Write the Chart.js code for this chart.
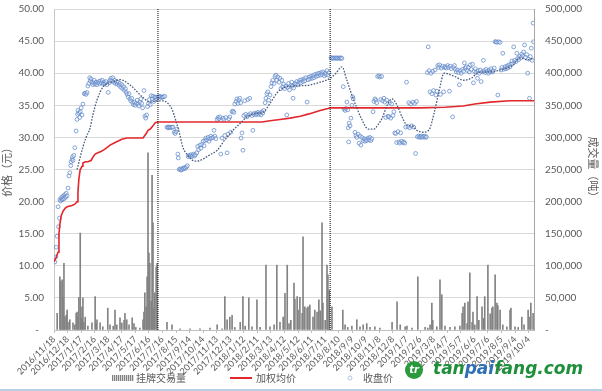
<!DOCTYPE html>
<html>
<head>
<meta charset="utf-8">
<script src="https://cdn.jsdelivr.net/npm/chart.js@4.4.0/dist/chart.umd.min.js"></script>
<style>
  html, body { margin: 0; padding: 0; background: #fff; }
  #wrap { width: 602px; height: 389px; border-bottom: 2px solid #b9cde5; }
</style>
</head>
<body>
<div id="wrap"><canvas id="chart" width="602" height="389"></canvas></div>
<script>
// ── DATA ─────────────────────────────────────────────────────────
// x values are days counted from the first trading day 2016/11/18
const START = new Date(2016, 10, 18);
const AXIS_DAYS = 1062;
const TICK_STEP = 30;
const priceTicks = { min: 0, max: 50, step: 5 };
const volumeTicks = { min: 0, max: 500000, step: 50000 };
const seriesNames = ['挂牌交易量', '加权均价', '收盘价'];
const axisTitles = ['价格（元）', '成交量（吨）'];
const markerDays = [230, 611];

// 收盘价 [day, price]
const closingPrice = [
  [2,10.6],[4,11.4],[5,12.9],[7,14.6],[10,16.1],[12,17.4],[9,19.2],[13,20.3],[15,20.1],[16,20.6],
  [18,20.3],[19,20.8],[20,20.4],[22,20.9],[23,20.5],[24,21.1],[26,20.7],[27,21.3],[29,20.9],[31,22.1],
  [33,24.0],[35,24.5],[37,25.6],[38,26.2],[40,26.6],[41,27.0],[42,26.4],[44,27.2],[46,28.4],[49,31.0],
  [51,32.8],[52,33.6],[53,34.2],[55,33.8],[57,33.1],[58,34.0],[60,34.6],[62,33.5],[64,35.2],[67,36.8],
  [69,36.9],[71,36.7],[73,37.0],[75,38.0],[77,38.4],[79,39.3],[80,38.8],[82,39.1],[84,38.6],[86,38.2],
  [88,38.5],[89,38.9],[91,38.3],[93,38.6],[95,38.2],[97,38.5],[99,38.7],[101,38.4],[103,38.8],
  [105,38.5],[107,38.9],[109,38.3],[111,38.6],[113,38.4],[115,38.7],[117,38.2],[120,37.0],[122,38.5],
  [124,38.9],[126,39.2],[128,38.8],[130,39.3],[132,38.6],[134,38.9],[136,38.4],[138,38.7],[140,38.3],
  [142,38.6],[144,38.1],[146,38.4],[148,37.8],[150,38.2],[152,37.6],[154,37.9],[156,37.3],[158,37.6],
  [160,37.0],[162,36.7],[164,36.3],[166,36.8],[168,36.0],[170,35.7],[172,36.1],[174,35.4],[176,35.1],
  [178,35.5],[180,35.0],[182,35.3],[184,35.8],[186,35.2],[188,34.9],[190,35.5],[192,36.0],[194,35.3],
  [196,34.6],[199,37.3],[201,33.3],[203,33.0],[205,33.5],[207,34.8],[209,35.3],[211,35.9],[213,35.1],
  [215,36.5],[217,36.0],[219,36.4],[221,35.6],[223,36.3],[225,36.2],[227,35.9],[229,36.3],
  [232,36.3],[234,36.4],[236,36.3],[238,36.2],[240,36.3],[242,36.3],[245,36.4],
  [250,31.6],[252,31.5],[254,31.6],[256,31.6],[258,31.5],[261,31.6],[263,31.6],[266,30.8],[268,30.6],
  [270,30.9],[272,31.3],[274,27.4],[275,26.8],[277,25.0],[279,25.1],[281,24.9],[283,25.0],[285,25.2],
  [287,25.1],[289,25.3],[291,25.2],[293,25.4],[295,25.6],[297,27.0],[299,27.2],[301,27.1],[303,27.3],
  [305,27.0],[307,27.2],[309,27.4],[311,27.1],[313,27.3],[316,27.6],[318,28.6],[320,28.1],[323,28.8],
  [325,28.3],[327,28.9],[330,29.4],[332,28.7],[334,29.5],[336,29.9],[338,29.6],[341,30.0],[343,29.4],
  [345,29.8],[347,30.2],[349,29.9],[352,30.0],[354,31.1],[356,30.2],[358,29.8],[361,32.8],[363,33.1],
  [365,32.9],[367,33.2],[369,27.4],[372,29.9],[374,33.0],[376,32.8],[378,30.3],[380,33.1],[383,27.6],
  [385,30.5],[387,32.9],[389,33.2],[391,30.8],[394,34.0],[396,34.1],[398,33.9],[400,35.2],[403,35.6],
  [405,36.0],[407,35.3],[409,35.8],[411,36.1],[413,35.4],[414,29.9],[416,30.7],[418,28.0],[420,33.4],
  [422,35.7],[424,33.6],[427,33.2],[429,35.9],[431,33.5],[433,36.1],[435,33.7],[438,33.4],[440,31.1],
  [442,33.6],[444,33.8],[447,33.5],[449,33.7],[451,33.9],[453,33.6],[456,33.8],[458,33.5],[460,34.0],
  [462,33.8],[464,34.2],[467,35.4],[469,36.1],[471,36.8],[473,37.1],[475,35.8],[478,36.6],[480,37.9],
  [482,38.5],[484,38.9],[487,38.4],[489,39.5],[491,39.7],[493,38.9],[495,39.4],[498,38.6],[500,39.2],
  [502,37.6],[504,38.9],[506,37.9],[508,38.3],[510,37.6],[513,38.0],[515,33.5],[517,37.8],[519,38.4],
  [521,37.4],[524,38.1],[526,38.6],[528,38.0],[529,36.1],[530,37.7],[533,38.4],[535,38.3],[537,38.7],
  [539,38.2],[542,38.6],[544,38.9],[546,38.5],[548,39.0],[551,38.7],[553,39.1],[555,38.8],[557,39.3],
  [560,35.5],[562,39.0],[564,39.4],[566,39.1],[568,39.5],[571,39.2],[573,39.6],[575,39.3],[577,39.8],
  [580,39.5],[582,39.9],[584,39.6],[586,40.0],[589,39.7],[591,40.1],[593,39.8],[595,40.2],[598,39.6],
  [600,40.0],[602,39.8],[604,40.4],[606,39.7],[608,40.1],
  [613,42.4],[615,42.3],[617,42.4],[619,42.3],[622,42.4],[624,42.3],[626,42.4],[628,42.3],[631,42.4],
  [633,42.3],[635,42.4],[637,42.3],[640,37.9],[642,34.4],[644,34.2],[646,34.5],[648,35.5],[650,34.3],
  [651,31.5],[652,29.3],[653,32.2],[655,31.8],[657,33.0],[659,35.0],[661,36.3],[662,36.0],[666,30.8],
  [668,30.3],[670,30.0],[673,30.5],[675,29.1],[677,30.2],[679,28.8],[681,30.0],[684,29.5],[686,29.8],
  [688,29.4],[690,29.7],[692,29.5],[695,29.9],[697,29.6],[699,30.0],[701,29.5],[703,29.8],[706,34.0],
  [708,35.6],[710,36.0],[712,35.8],[714,35.4],[716,39.5],[719,39.6],[721,39.4],[723,35.9],[725,39.5],
  [727,35.7],[730,36.1],[732,35.5],[734,33.1],[736,35.8],[739,33.3],[741,33.2],[743,35.4],[745,33.0],
  [747,35.2],[750,33.4],[752,34.0],[754,30.7],[756,30.6],[758,29.2],[761,30.9],[763,29.3],[765,29.1],
  [767,30.7],[769,29.4],[772,29.2],[774,29.3],[776,29.1],[778,31.6],[780,38.6],[783,31.7],[785,35.4],
  [787,31.5],[789,35.2],[791,31.8],[794,35.5],[796,31.6],[798,35.3],[800,27.5],[802,35.6],[804,30.1],
  [807,30.2],[809,30.0],[811,30.1],[813,30.2],[815,30.0],[818,30.1],[820,30.2],[822,30.0],[824,30.1],
  [826,40.1],[828,44.1],[830,40.4],[832,37.1],[834,40.0],[836,36.8],[838,40.3],[840,37.3],[843,40.5],
  [845,36.6],[847,37.2],[849,41.2],[851,40.9],[853,41.3],[855,36.7],[857,40.8],[860,41.1],[862,37.1],
  [864,40.9],[866,41.0],[868,40.8],[871,41.2],[873,40.9],[875,37.2],[877,41.1],[879,40.7],[882,33.2],
  [884,40.9],[886,41.2],[888,40.6],[890,40.2],[893,40.5],[895,40.1],[897,38.2],[899,40.4],[901,40.0],
  [904,40.6],[906,40.3],[908,41.6],[910,40.8],[912,41.0],[915,40.4],[917,40.9],[919,40.2],[921,41.3],
  [923,40.6],[926,41.4],[928,38.5],[930,40.3],[932,40.7],[934,40.1],[937,39.2],[939,40.4],[941,40.0],
  [943,40.5],[945,38.7],[948,40.2],[950,42.0],[952,40.4],[954,40.1],[956,40.6],[959,40.3],[961,40.0],
  [963,40.5],[965,40.2],[967,40.7],[970,40.2],[972,40.4],[974,40.8],[976,44.9],[978,44.9],[980,44.8],
  [982,36.6],[984,44.9],[987,44.8],[989,40.5],[991,40.9],[993,43.1],[995,40.6],[998,41.0],[1000,40.7],
  [1002,41.1],[1004,40.8],[1006,41.3],[1009,41.0],[1011,41.4],[1013,41.9],[1015,41.5],[1017,44.1],
  [1019,42.0],[1022,41.8],[1024,43.1],[1026,42.3],[1028,42.1],[1030,42.6],[1033,42.4],[1035,43.0],
  [1037,42.7],[1039,43.3],[1041,44.4],[1043,42.5],[1046,42.9],[1048,40.0],[1050,42.2],[1052,36.1],
  [1054,42.6],[1056,43.9],[1058,42.0],[1060,47.8],[1061,44.9]
];

// 加权均价 [day, price]
const weightedPrice = [
  [0,10.6],[4,11.2],[9,12.1],[11,15.0],[13,16.5],[16,17.8],[20,18.5],[25,19.0],[29,19.2],[40,19.4],
  [46,19.6],[51,20.0],[53,21.5],[55,23.5],[58,25.0],[62,25.5],[64,26.0],[69,26.2],[75,26.2],[82,26.4],
  [86,26.9],[91,27.4],[97,27.6],[104,27.8],[111,28.1],[117,28.4],[124,28.8],[132,29.1],[141,29.4],
  [150,29.7],[161,29.9],[197,29.9],[204,30.6],[208,31.1],[213,31.3],[219,31.8],[224,32.3],[230,32.4],
  [460,32.4],[478,32.6],[500,32.8],[522,33.0],[545,33.3],[566,33.7],[589,34.2],[606,34.5],[611,34.6],
  [810,34.6],[865,34.7],[905,34.9],[931,35.2],[965,35.5],[1009,35.7],[1062,35.7]
];

// moving average of 收盘价 [day, price]
const closingTrend = [
  [51,25.0],[64,28.5],[71,30.0],[80,31.5],[86,33.5],[95,35.8],[108,37.8],[131,38.7],[146,39.0],
  [168,38.2],[184,37.1],[197,36.2],[212,35.5],[228,35.7],[241,35.7],[252,35.3],[261,34.4],[270,32.5],
  [277,30.8],[285,28.5],[296,27.2],[312,26.3],[323,26.4],[345,27.3],[361,28.0],[378,29.6],[396,31.1],
  [412,32.2],[427,33.2],[449,33.8],[462,33.9],[478,35.3],[493,36.9],[507,37.7],[529,38.0],[560,38.1],
  [589,38.6],[611,39.2],[624,40.0],[637,41.0],[648,38.9],[659,36.6],[670,34.6],[681,32.8],[695,31.3],
  [708,31.3],[717,32.0],[726,33.0],[737,35.0],[748,36.0],[759,35.0],[770,33.2],[781,31.9],[792,31.8],
  [803,31.1],[816,30.8],[830,31.2],[841,33.8],[852,37.2],[863,40.0],[883,39.6],[907,38.9],[925,39.3],
  [938,40.1],[965,40.2],[987,40.5],[1002,40.8],[1016,41.3],[1024,42.0],[1031,42.4],[1047,42.1],[1062,42.3]
];

// 挂牌交易量 [day, tonnes]
const listedVolume = [
  [7,26000],[13,83000],[15,76000],[18,78000],[20,51000],[22,104000],[24,20000],[27,23000],[29,31000],
  [31,12000],[35,16000],[42,11000],[46,8000],[49,26000],[51,28000],[53,20000],[55,51000],[58,151000],
  [60,18000],[62,36000],[64,50000],[66,12000],[69,20000],[75,6000],[84,11000],[91,52000],[93,10000],
  [95,16000],[102,11000],[108,5000],[119,34000],[124,8000],[131,6000],[135,31000],[139,8000],[146,19000],
  [150,11000],[155,15000],[157,26000],[161,16000],[166,8000],[173,19000],[177,10000],[181,4000],
  [190,3000],[197,16000],[199,28000],[201,58000],[204,36000],[206,83000],[208,276000],[210,120000],
  [212,104000],[215,45000],[217,241000],[219,167000],[221,34000],[223,58000],[226,98000],[228,104000],
  [250,12000],[261,8000],[279,2000],[301,2000],[323,2000],[345,3000],[361,8000],[372,2000],[378,52000],
  [383,16000],[389,20000],[394,23000],[400,4000],[412,12000],[418,52000],[423,6000],[431,50000],
  [438,5000],[449,47000],[456,4000],[469,101000],[478,5000],[487,8000],[493,101000],[500,12000],
  [507,20000],[511,57000],[516,101000],[520,10000],[524,15000],[531,73000],[533,48000],[538,52000],
  [540,31000],[544,51000],[549,26000],[551,145000],[555,36000],[560,34000],[562,36000],[566,39000],
  [573,20000],[577,31000],[582,28000],[586,47000],[589,30000],[593,167000],[595,42000],[600,15000],
  [604,101000],[606,86000],[609,62000],[615,36000],[639,31000],[644,8000],[650,4000],[659,6000],
  [670,16000],[677,5000],[684,8000],[692,10000],[699,4000],[710,5000],[721,3000],[748,12000],
  [759,44000],[766,8000],[777,5000],[781,6000],[792,3000],[805,83000],[821,4000],[827,3000],[832,8000],
  [836,42000],[838,15000],[847,5000],[854,78000],[858,55000],[865,6000],[876,4000],[887,5000],
  [898,6000],[903,26000],[905,36000],[909,42000],[914,10000],[916,44000],[920,89000],[925,12000],
  [927,28000],[931,8000],[936,52000],[940,15000],[947,36000],[951,18000],[953,52000],[960,101000],
  [965,25000],[969,34000],[971,36000],[976,86000],[980,42000],[982,38000],[987,31000],[993,8000],
  [1002,5000],[1009,31000],[1011,34000],[1020,5000],[1027,4000],[1035,20000],[1040,8000],[1049,31000],
  [1053,20000],[1055,42000],[1060,26000]
];

// ── HELPERS ──────────────────────────────────────────────────────
const toXY = pairs => pairs.map(p => ({ x: p[0], y: p[1] }));

function dayLabel(v) {
    const d = new Date(START.getFullYear(), START.getMonth(), START.getDate() + v);
    return d.getFullYear() + '/' + (d.getMonth() + 1) + '/' + d.getDate();
}

// value axes: keep the label gap but don't let it push the plot top down
function fixValueAxis(width) {
    return s => { s.width = width; s.paddingTop = 0; s.paddingBottom = 0; };
}

const TEXT = '#595959';
const NUM_FONT = 'Lato, "Noto Sans", sans-serif';
const CJK_FONT = '"Noto Sans CJK SC", sans-serif';

// ── LEGEND + WATERMARK (drawn like the Excel original) ───────────
const excelLegend = {
    id: 'excelLegend',
    afterDraw(chart) {
        const ctx = chart.ctx;
        const y = 378;
        ctx.save();
        ctx.font = '10px ' + CJK_FONT;
        ctx.textBaseline = 'middle';

        // hatched swatch for the volume bars
        ctx.fillStyle = '#d9d9d9';
        ctx.fillRect(112, y - 3, 22, 6);
        ctx.strokeStyle = '#808080';
        ctx.lineWidth = 1;
        for (let i = 112; i < 134; i += 2) {
            ctx.beginPath(); ctx.moveTo(i + 0.5, y - 3); ctx.lineTo(i + 0.5, y + 3); ctx.stroke();
        }
        ctx.fillStyle = TEXT;
        ctx.fillText(seriesNames[0], 136, y);

        ctx.strokeStyle = '#e2272d';
        ctx.lineWidth = 2;
        ctx.beginPath(); ctx.moveTo(230, y); ctx.lineTo(252, y); ctx.stroke();
        ctx.fillText(seriesNames[1], 256, y);

        ctx.strokeStyle = '#b4c4de';
        ctx.lineWidth = 1;
        ctx.beginPath(); ctx.arc(350, y, 2, 0, Math.PI * 2); ctx.stroke();
        ctx.fillText(seriesNames[2], 363, y);

        // site watermark
        ctx.fillStyle = '#2a9a3c';
        ctx.beginPath(); ctx.arc(414, 370, 9, 0, Math.PI * 2); ctx.fill();
        ctx.fillStyle = '#fff';
        ctx.font = 'bold italic 10px "DejaVu Sans"';
        ctx.textAlign = 'center';
        ctx.fillText('tr', 414, 370);
        ctx.textAlign = 'left';
        ctx.font = 'bold italic 17px "DejaVu Sans"';
        let x = 433;
        [['tan', '#1f8f3a'], ['pai', '#2f6fb5'], ['fang.com', '#1f8f3a']].forEach(([t, c]) => {
            ctx.fillStyle = c;
            ctx.fillText(t, x, 370);
            x += ctx.measureText(t).width;
        });
        ctx.restore();
    }
};

// ── CHART ────────────────────────────────────────────────────────
new Chart(document.getElementById('chart'), {
    type: 'bar',
    data: {
        datasets: [
            ...markerDays.map(d => ({
                type: 'line',
                label: 'marker',
                data: [{ x: d, y: priceTicks.min }, { x: d, y: priceTicks.max }],
                yAxisID: 'y',
                borderColor: '#000',
                borderWidth: 1,
                borderDash: [1, 1],
                pointRadius: 0,
                order: 0
            })),
            {
                type: 'line',
                label: 'trend',
                data: toXY(closingTrend),
                yAxisID: 'y',
                borderColor: '#4a5c80',
                borderWidth: 1.3,
                borderDash: [1.6, 1.4],
                cubicInterpolationMode: 'monotone',
                pointRadius: 0,
                order: 1
            },
            {
                type: 'line',
                label: seriesNames[1],
                data: toXY(weightedPrice),
                yAxisID: 'y',
                borderColor: '#e2272d',
                borderWidth: 1.6,
                pointRadius: 0,
                order: 2
            },
            {
                type: 'scatter',
                label: seriesNames[2],
                data: toXY(closingPrice),
                yAxisID: 'y',
                borderColor: '#5580c6',
                backgroundColor: 'rgba(255,255,255,0.3)',
                borderWidth: 0.7,
                pointRadius: 1.9,
                order: 3
            },
            {
                type: 'bar',
                label: seriesNames[0],
                data: toXY(listedVolume),
                yAxisID: 'y1',
                backgroundColor: '#838383',
                barThickness: 1,
                order: 4
            }
        ]
    },
    options: {
        responsive: false,
        animation: false,
        events: [],
        layout: { padding: { top: 9 } },
        plugins: {
            legend: { display: false },
            tooltip: { enabled: false }
        },
        scales: {
            x: {
                type: 'linear',
                min: 0,
                max: AXIS_DAYS,
                offset: false,
                afterFit: s => { s.height = 59; },
                grid: { offset: false, drawOnChartArea: false, tickLength: 3, color: '#bfbfbf' },
                border: { color: '#bfbfbf' },
                ticks: {
                    stepSize: TICK_STEP,
                    maxTicksLimit: 40,
                    includeBounds: false,
                    autoSkip: false,
                    maxRotation: 45,
                    minRotation: 45,
                    padding: 1,
                    color: TEXT,
                    font: { family: NUM_FONT, size: 9 },
                    callback: v => dayLabel(v)
                }
            },
            y: {
                position: 'left',
                min: priceTicks.min,
                max: priceTicks.max,
                afterFit: fixValueAxis(54),
                grid: { color: '#d9d9d9', drawTicks: false },
                border: { color: '#c8c8c8' },
                ticks: {
                    stepSize: priceTicks.step,
                    padding: 10,
                    color: TEXT,
                    font: { family: NUM_FONT, size: 10 },
                    callback: v => v === 0 ? '-  ' : v.toFixed(2)
                },
                title: {
                    display: true,
                    text: axisTitles[0],
                    color: TEXT,
                    padding: { top: 0, bottom: 2 },
                    font: { family: CJK_FONT, size: 11 }
                }
            },
            y1: {
                position: 'right',
                min: volumeTicks.min,
                max: volumeTicks.max,
                afterFit: fixValueAxis(68),
                grid: { drawOnChartArea: false, drawTicks: false },
                border: { color: '#a6a6a6' },
                ticks: {
                    stepSize: volumeTicks.step,
                    padding: 11,
                    color: TEXT,
                    font: { family: NUM_FONT, size: 10 },
                    callback: v => v === 0 ? '-' : v.toLocaleString('en-US')
                },
                title: {
                    display: true,
                    text: axisTitles[1],
                    color: TEXT,
                    padding: { top: 2, bottom: 2 },
                    font: { family: CJK_FONT, size: 11 }
                }
            }
        }
    },
    plugins: [excelLegend]
});
</script>
</body>
</html>
